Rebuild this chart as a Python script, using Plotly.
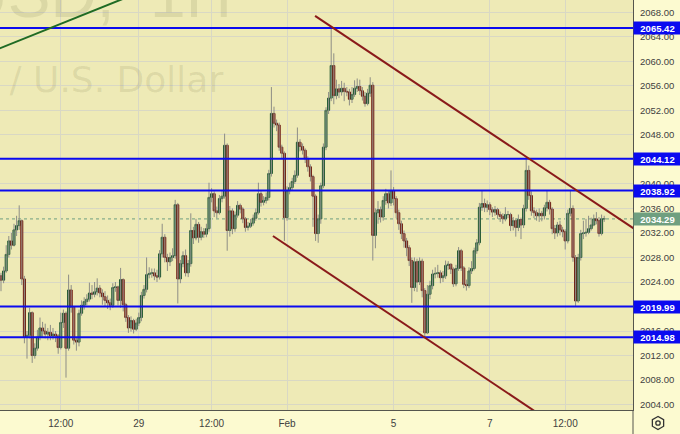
import math
import plotly.graph_objects as go

# ---------------- data ----------------
first_open = 2025.0
close = [
    2024.3, 2025.8, 2028.5, 2030.7, 2030.0, 2032.5, 2033.2, 2034.0, 2024.5, 2015.0,
    2015.3, 2019.0, 2012.0, 2013.2, 2015.0, 2016.5, 2016.0, 2015.5, 2015.8, 2015.2,
    2015.5, 2015.2, 2013.3, 2017.4, 2018.9, 2013.2, 2022.7, 2019.9, 2014.5, 2014.2,
    2018.9, 2020.2, 2020.8, 2021.2, 2022.2, 2022.0, 2022.4, 2023.0, 2022.2, 2021.6,
    2021.0, 2020.6, 2020.2, 2023.1, 2023.2, 2021.0, 2024.4, 2020.3, 2018.2, 2016.5,
    2017.7, 2016.3, 2017.3, 2018.2, 2021.8, 2022.8, 2025.2, 2025.4, 2025.5, 2025.0,
    2024.8, 2028.6, 2031.3, 2028.0, 2027.3, 2028.0, 2028.3, 2036.6, 2024.5, 2027.0,
    2028.3, 2025.5, 2027.0, 2032.4, 2031.2, 2033.4, 2031.3, 2032.2, 2031.8, 2032.7,
    2037.8, 2038.4, 2035.6, 2035.3, 2037.6, 2038.0, 2046.3, 2032.4, 2035.6, 2032.7,
    2034.9, 2036.5, 2035.9, 2034.3, 2032.9, 2033.1, 2033.6, 2034.4, 2035.3, 2038.4,
    2037.0, 2037.3, 2037.8, 2041.7, 2051.5, 2049.9, 2049.6, 2046.0, 2045.0, 2034.5,
    2038.9, 2039.4, 2040.4, 2041.4, 2046.8, 2046.1, 2045.5, 2044.1, 2042.8, 2041.2,
    2038.0, 2031.9, 2034.3, 2039.7, 2046.0, 2052.0, 2054.0, 2059.3, 2054.4, 2055.5,
    2055.0, 2055.6, 2055.1, 2055.0, 2053.8, 2054.6, 2055.6, 2055.9, 2055.2, 2054.3,
    2053.1, 2054.8, 2056.1, 2031.6, 2035.3, 2035.8, 2034.6, 2037.3, 2038.4, 2036.9,
    2038.9, 2037.6, 2035.3, 2033.5, 2031.9, 2030.7, 2029.6, 2027.5, 2023.1, 2027.3,
    2024.0, 2027.4, 2022.6, 2015.7, 2022.0, 2023.4, 2025.3, 2025.4, 2025.5, 2024.7,
    2025.0, 2026.7, 2026.9, 2026.1, 2023.7, 2026.2, 2029.1, 2026.3, 2023.6, 2023.4,
    2025.8, 2026.2, 2029.1, 2030.4, 2036.2, 2036.8, 2036.2, 2036.6, 2035.8, 2035.4,
    2035.8, 2035.0, 2034.7, 2034.3, 2035.0, 2035.0, 2033.2, 2034.0, 2032.9, 2034.2,
    2033.3, 2036.0, 2042.2, 2038.1, 2035.6, 2035.3, 2034.8, 2035.2, 2034.8, 2036.1,
    2037.0, 2035.9, 2032.7, 2032.0, 2033.3, 2032.5, 2032.2, 2030.7, 2035.2, 2036.0,
    2028.0, 2020.9, 2028.0, 2031.9, 2032.0, 2032.1, 2032.7, 2033.3, 2034.3, 2034.0,
    2031.9, 2034.3, 2034.3,
]
high = [
    2025.5, 2026.5, 2030.0, 2031.5, 2032.0, 2033.5, 2034.8, 2036.5, 2034.2, 2025.0,
    2016.0, 2019.8, 2019.2, 2014.0, 2016.2, 2018.2, 2017.5, 2017.2, 2016.5, 2017.0,
    2016.5, 2016.0, 2015.5, 2019.0, 2019.5, 2019.2, 2025.2, 2023.5, 2020.0, 2015.0,
    2019.5, 2021.0, 2021.5, 2022.0, 2023.9, 2023.5, 2024.0, 2024.6, 2023.5, 2022.8,
    2022.5, 2021.8, 2021.3, 2023.8, 2024.0, 2023.4, 2026.3, 2024.6, 2020.6, 2018.6,
    2018.4, 2018.0, 2018.0, 2019.0, 2022.4, 2023.5, 2028.0, 2026.4, 2026.2, 2026.2,
    2026.0, 2029.2, 2033.5, 2031.8, 2028.6, 2028.8, 2029.5, 2037.4, 2036.9, 2027.6,
    2029.0, 2029.3, 2027.6, 2035.2, 2033.0, 2034.3, 2033.8, 2033.0, 2032.8, 2033.5,
    2040.2, 2039.3, 2038.8, 2036.3, 2038.2, 2039.0, 2048.2, 2046.6, 2036.4, 2036.0,
    2035.5, 2037.2, 2036.8, 2036.2, 2034.6, 2033.8, 2034.3, 2035.0, 2036.0, 2040.2,
    2038.8, 2038.0, 2038.6, 2042.3, 2055.8, 2052.6, 2050.5, 2050.0, 2046.4, 2045.3,
    2039.6, 2040.2, 2041.0, 2042.2, 2049.2, 2047.3, 2046.6, 2045.8, 2044.5, 2043.2,
    2041.5, 2038.3, 2035.0, 2040.2, 2046.6, 2052.5, 2055.0, 2065.5, 2061.3, 2057.0,
    2056.3, 2056.8, 2056.5, 2055.8, 2055.5, 2055.8, 2056.9, 2057.2, 2057.0, 2055.8,
    2055.0, 2055.5, 2057.4, 2056.6, 2036.0, 2037.2, 2036.3, 2038.0, 2039.2, 2038.9,
    2042.2, 2039.5, 2038.0, 2035.8, 2034.0, 2032.4, 2031.2, 2030.0, 2028.0, 2028.0,
    2027.8, 2028.0, 2027.8, 2023.0, 2023.5, 2024.2, 2026.0, 2026.4, 2026.8, 2025.9,
    2025.8, 2027.5, 2027.4, 2027.0, 2026.4, 2026.8, 2029.7, 2029.4, 2026.6, 2024.4,
    2026.4, 2027.4, 2029.6, 2031.0, 2036.9, 2038.9, 2037.6, 2037.3, 2037.0, 2036.2,
    2036.4, 2036.1, 2035.5, 2035.2, 2036.2, 2035.6, 2035.3, 2034.6, 2034.4, 2035.0,
    2034.5, 2036.6, 2044.3, 2043.0, 2038.8, 2036.2, 2035.8, 2036.0, 2035.6, 2036.6,
    2038.9, 2037.4, 2036.2, 2033.3, 2033.8, 2034.0, 2033.0, 2032.6, 2035.8, 2038.9,
    2036.5, 2028.4, 2028.6, 2032.5, 2034.0, 2034.3, 2034.8, 2034.5, 2035.0, 2035.4,
    2034.6, 2035.0, 2034.8,
]
low = [
    2022.5, 2023.8, 2025.5, 2028.0, 2029.3, 2029.8, 2031.5, 2032.5, 2023.5, 2014.0,
    2011.5, 2014.8, 2010.8, 2011.5, 2012.8, 2014.5, 2015.0, 2014.8, 2014.5, 2014.5,
    2014.6, 2014.2, 2012.3, 2013.0, 2016.5, 2008.4, 2012.8, 2019.0, 2013.8, 2012.8,
    2013.5, 2018.5, 2019.5, 2020.2, 2020.8, 2021.2, 2021.5, 2021.8, 2021.5, 2020.3,
    2020.0, 2019.6, 2019.4, 2019.8, 2022.4, 2020.2, 2019.8, 2019.2, 2017.5, 2015.7,
    2015.9, 2015.6, 2016.0, 2016.8, 2017.6, 2021.3, 2022.3, 2024.6, 2024.7, 2024.3,
    2024.0, 2024.4, 2028.0, 2027.2, 2025.8, 2026.6, 2027.4, 2027.8, 2020.5, 2023.8,
    2026.4, 2024.9, 2024.8, 2026.5, 2030.2, 2030.8, 2030.4, 2030.8, 2031.2, 2031.3,
    2032.2, 2037.0, 2034.6, 2034.4, 2035.0, 2037.0, 2037.6, 2029.1, 2031.4, 2031.8,
    2032.2, 2034.5, 2035.2, 2033.6, 2032.2, 2032.4, 2032.8, 2033.2, 2034.0, 2035.0,
    2036.3, 2036.5, 2036.8, 2037.3, 2041.2, 2049.2, 2048.6, 2045.4, 2044.2, 2030.7,
    2034.0, 2038.3, 2039.0, 2040.0, 2041.0, 2045.3, 2044.8, 2043.4, 2042.0, 2040.4,
    2033.0, 2030.7, 2030.4, 2033.5, 2039.3, 2045.5, 2051.4, 2053.5, 2053.0, 2053.8,
    2054.0, 2054.4, 2053.5, 2054.3, 2052.8, 2053.2, 2054.2, 2055.0, 2054.5, 2053.6,
    2052.6, 2052.8, 2054.2, 2027.5, 2029.5, 2033.5, 2033.7, 2034.0, 2036.6, 2036.0,
    2036.4, 2036.5, 2034.4, 2032.5, 2031.0, 2029.6, 2028.2, 2026.6, 2020.6, 2022.5,
    2022.4, 2023.5, 2021.5, 2015.0, 2015.5, 2021.2, 2022.8, 2024.6, 2024.7, 2023.8,
    2024.0, 2024.5, 2026.0, 2025.3, 2023.2, 2023.3, 2025.8, 2025.8, 2023.0, 2022.6,
    2023.0, 2025.3, 2025.9, 2028.6, 2030.0, 2035.6, 2035.4, 2035.4, 2034.9, 2034.6,
    2034.8, 2034.3, 2033.8, 2033.5, 2033.9, 2034.4, 2032.3, 2032.4, 2031.4, 2032.3,
    2031.0, 2032.8, 2035.5, 2037.4, 2034.8, 2034.4, 2034.0, 2033.8, 2033.9, 2034.2,
    2035.5, 2035.0, 2031.8, 2031.0, 2031.4, 2031.6, 2031.3, 2029.3, 2030.3, 2034.7,
    2027.3, 2020.1, 2020.6, 2027.5, 2031.0, 2031.4, 2031.8, 2032.4, 2033.1, 2033.4,
    2031.4, 2031.6, 2033.8,
]

x_tick_bars = [23, 53, 81, 110, 151, 188, 217]
x_tick_labels = ["12:00", "29", "12:00", "Feb", "5", "7", "12:00"]
y_tick_values = [2004, 2008, 2012, 2016, 2020, 2024, 2028, 2032, 2036, 2040,
                 2044, 2048, 2052, 2056, 2060, 2064, 2068]
level_prices = [2065.42, 2044.12, 2038.92, 2019.99, 2014.98]
last_price = 2034.29

# drawn trend lines (bar index, price)
green_line = ((-8.1, 2060.82), (53.5, 2071.31))
upper_channel = ((120.8, 2067.40), (250.0, 2030.85))
lower_channel = ((104.6, 2031.51), (215.0, 2000.17))

# ---------------- build ----------------
n = len(close)
bars = list(range(n))
opens = [first_open] + close[:-1]
body_hi = [max(o, c) for o, c in zip(opens, close)]
body_lo = [min(o, c) for o, c in zip(opens, close)]
hi = [max(h, b) for h, b in zip(high, body_hi)]
lo = [min(l, b) for l, b in zip(low, body_lo)]

wx, wy = [], []
for i in bars:
    wx += [i, i, None]
    wy += [lo[i], hi[i], None]

PLOT_BG = "#eeeab6"
PAPER_BG = "#fcfad0"
GRID = "#d9d8c4"
AXIS_LINE = "#55554d"
TXT = "#3f3f3f"
FONT = "Liberation Sans"
WM_COLOR = "rgba(60,60,20,0.10)"

fig = go.Figure()
fig.add_trace(go.Scatter(x=wx, y=wy, mode="lines",
                         line=dict(color="#8d8d86", width=1),
                         hoverinfo="skip", showlegend=False))
fig.add_trace(go.Candlestick(
    x=bars, open=opens, high=body_hi, low=body_lo, close=close,
    increasing=dict(fillcolor="#4e9468", line=dict(color="#1f5530", width=1)),
    decreasing=dict(fillcolor="#b53c2c", line=dict(color="#6a1c12", width=1)),
    whiskerwidth=0, showlegend=False))

shapes = []
shapes.append(dict(type="line", xref="paper", x0=0, x1=1, yref="y",
                   y0=last_price, y1=last_price, layer="between",
                   line=dict(color="#6f9f80", width=1, dash="dot")))
for p in level_prices:
    shapes.append(dict(type="line", xref="paper", x0=0, x1=1, yref="y",
                       y0=p, y1=p, layer="above",
                       line=dict(color="#0a0af0", width=2)))
shapes.append(dict(type="line", xref="x", yref="y",
                   x0=green_line[0][0], y0=green_line[0][1],
                   x1=green_line[1][0], y1=green_line[1][1],
                   line=dict(color="#1f6b24", width=2), layer="above"))
for ln in (upper_channel, lower_channel):
    shapes.append(dict(type="line", xref="x", yref="y",
                       x0=ln[0][0], y0=ln[0][1], x1=ln[1][0], y1=ln[1][1],
                       line=dict(color="#8a1a1a", width=2), layer="above"))

PW, PH = 633.0, 410.0
def px(xp):
    return xp / PW
def py(yp):
    return (PH - yp) / PH

shapes.append(dict(type="line", xref="paper", yref="paper",
                   x0=1, x1=1, y0=0, y1=py(434),
                   line=dict(color=AXIS_LINE, width=1)))
cx, cy, r = 658, 423, 6.5
pts = []
for k in range(6):
    a = math.radians(90 + 60 * k)
    pts.append((px(cx + r * math.cos(a)), py(cy - r * math.sin(a))))
path = "M " + " L ".join(f"{a:.5f},{b:.5f}" for a, b in pts) + " Z"
shapes.append(dict(type="path", xref="paper", yref="paper", path=path,
                   line=dict(color="#333333", width=1.3)))
cr = 2.2
shapes.append(dict(type="circle", xref="paper", yref="paper",
                   x0=px(cx - cr), x1=px(cx + cr), y0=py(cy + cr), y1=py(cy - cr),
                   line=dict(color="#333333", width=1.3)))

annotations = []
annotations.append(dict(text="XAUUSD,&nbsp; 1H", xref="paper", yref="paper",
                        x=px(234), y=py(33), xanchor="right", yanchor="bottom",
                        showarrow=False,
                        font=dict(family=FONT, size=64, color=WM_COLOR)))
annotations.append(dict(text="Gold Spot / U.S. Dollar", xref="paper", yref="paper",
                        x=px(225), y=py(80), xanchor="right", yanchor="middle",
                        showarrow=False,
                        font=dict(family="DejaVu Sans", size=36, color=WM_COLOR)))
for p in level_prices:
    annotations.append(dict(text=f"<b>{p:.2f}</b>", xref="paper", x=1, xanchor="left",
                            yref="y", y=p, yanchor="middle", showarrow=False,
                            bgcolor="#0a0af0", width=45, height=10, borderpad=1,
                            align="center",
                            font=dict(family=FONT, size=9.5, color="white")))
annotations.append(dict(text=f"<b>{last_price:.2f}</b>", xref="paper", x=1, xanchor="left",
                        yref="y", y=last_price, yanchor="middle", showarrow=False,
                        bgcolor="#6f9f80", width=45, height=10, borderpad=1,
                        align="center",
                        font=dict(family=FONT, size=9.5, color="white")))

fig.update_layout(
    width=680, height=434,
    margin=dict(l=0, r=47, t=0, b=24),
    paper_bgcolor=PAPER_BG, plot_bgcolor=PLOT_BG,
    showlegend=False, hovermode=False,
    boxgap=0.22, boxgroupgap=0,
    shapes=shapes, annotations=annotations,
    xaxis=dict(range=[-0.385, 243.08], rangeslider=dict(visible=False),
               tickmode="array", tickvals=x_tick_bars, ticktext=x_tick_labels,
               showgrid=True, gridcolor=GRID, gridwidth=1, zeroline=False,
               showline=True, linecolor=AXIS_LINE, linewidth=1,
               ticks="outside", ticklen=4, tickcolor=PAPER_BG,
               tickfont=dict(family=FONT, size=10, color=TXT), fixedrange=True),
    yaxis=dict(range=[2003.12, 2070.0], side="right",
               tickmode="array", tickvals=y_tick_values,
               ticktext=[f"{v:.2f}" for v in y_tick_values],
               showgrid=True, gridcolor=GRID, gridwidth=1, zeroline=False,
               showline=True, linecolor=AXIS_LINE, linewidth=1,
               ticks="outside", ticklen=4, tickcolor=PAPER_BG,
               tickfont=dict(family=FONT, size=9.5, color=TXT), fixedrange=True),
)

fig.write_html("out.html", config={"displayModeBar": False},
               post_script="document.body.style.margin='0';document.body.style.overflow='hidden';")
